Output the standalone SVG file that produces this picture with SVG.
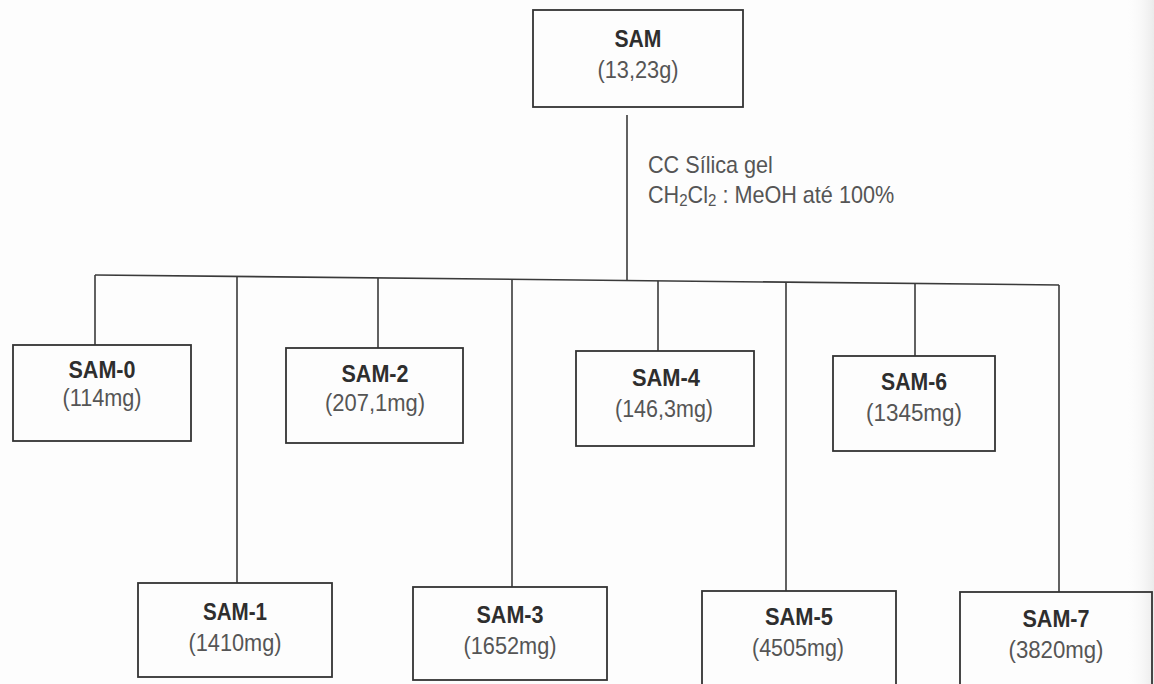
<svg xmlns="http://www.w3.org/2000/svg" width="1154" height="684" viewBox="0 0 1154 684">
<defs>
<linearGradient id="edge" x1="0" y1="0" x2="1" y2="0">
<stop offset="0" stop-color="#ffffff" stop-opacity="0"/>
<stop offset="1" stop-color="#ebebeb" stop-opacity="1"/>
</linearGradient>
<style>
.box{fill:none;stroke:#333;stroke-width:1.8}
.ln{fill:none;stroke:#3a3a3a;stroke-width:1.6}
.nm{font-family:"Liberation Sans",Arial,sans-serif;font-size:23px;font-weight:bold;fill:#2e2e2e;text-anchor:middle}
.wt{font-family:"Liberation Sans",Arial,sans-serif;font-size:23px;fill:#555;text-anchor:middle}
.note{font-family:"Liberation Sans",Arial,sans-serif;font-size:23px;fill:#555}
</style>
</defs>
<rect x="0" y="0" width="1154" height="684" fill="#fdfdfd"/>
<rect x="1124" y="0" width="30" height="684" fill="url(#edge)"/>

<g id="connectors">
<line class="ln" x1="627" y1="115" x2="627" y2="280.5"/>
<line class="ln" x1="95" y1="275" x2="1059" y2="285"/>
<line class="ln" x1="95" y1="275" x2="95" y2="345"/>
<line class="ln" x1="237" y1="276.5" x2="237" y2="583"/>
<line class="ln" x1="378" y1="278" x2="378" y2="348"/>
<line class="ln" x1="512" y1="279.3" x2="512" y2="587"/>
<line class="ln" x1="658" y1="280.8" x2="658" y2="351"/>
<line class="ln" x1="786" y1="282.2" x2="786" y2="591"/>
<line class="ln" x1="915" y1="283.5" x2="915" y2="356"/>
<line class="ln" x1="1059" y1="285" x2="1059" y2="592"/>
<text class="note" transform="translate(648,173) scale(0.94,1)"><tspan x="0" y="0">CC Sílica gel</tspan><tspan x="0" y="30">CH</tspan><tspan font-size="16" dy="3">2</tspan><tspan dy="-3">Cl</tspan><tspan font-size="16" dy="3">2</tspan><tspan dy="-3"> : MeOH até 100%</tspan></text>
</g>

<g id="SAM">
<rect class="box" x="533" y="10" width="210" height="97"/>
<text class="nm" x="638" y="47" textLength="47" lengthAdjust="spacingAndGlyphs">SAM</text>
<text class="wt" x="638" y="78" textLength="81" lengthAdjust="spacingAndGlyphs">(13,23g)</text>
</g>

<g id="SAM-0">
<rect class="box" x="13" y="345" width="178" height="96"/>
<text class="nm" x="102" y="378" textLength="67" lengthAdjust="spacingAndGlyphs">SAM-0</text>
<text class="wt" x="102" y="406" textLength="79" lengthAdjust="spacingAndGlyphs">(114mg)</text>
</g>

<g id="SAM-2">
<rect class="box" x="286" y="348" width="177" height="95"/>
<text class="nm" x="375" y="382" textLength="67" lengthAdjust="spacingAndGlyphs">SAM-2</text>
<text class="wt" x="375" y="411" textLength="100" lengthAdjust="spacingAndGlyphs">(207,1mg)</text>
</g>

<g id="SAM-4">
<rect class="box" x="576" y="351" width="178" height="95"/>
<text class="nm" x="666" y="386" textLength="68" lengthAdjust="spacingAndGlyphs">SAM-4</text>
<text class="wt" x="664" y="417" textLength="98" lengthAdjust="spacingAndGlyphs">(146,3mg)</text>
</g>

<g id="SAM-6">
<rect class="box" x="833" y="356" width="162" height="95"/>
<text class="nm" x="914" y="390" textLength="66" lengthAdjust="spacingAndGlyphs">SAM-6</text>
<text class="wt" x="914" y="421" textLength="96" lengthAdjust="spacingAndGlyphs">(1345mg)</text>
</g>

<g id="SAM-1">
<rect class="box" x="138" y="583" width="194" height="94"/>
<text class="nm" x="235" y="620" textLength="64" lengthAdjust="spacingAndGlyphs">SAM-1</text>
<text class="wt" x="235" y="651" textLength="93" lengthAdjust="spacingAndGlyphs">(1410mg)</text>
</g>

<g id="SAM-3">
<rect class="box" x="413" y="587" width="194" height="93"/>
<text class="nm" x="510" y="623" textLength="67" lengthAdjust="spacingAndGlyphs">SAM-3</text>
<text class="wt" x="510" y="654" textLength="93" lengthAdjust="spacingAndGlyphs">(1652mg)</text>
</g>

<g id="SAM-5">
<rect class="box" x="702" y="591" width="194" height="98"/>
<text class="nm" x="799" y="625" textLength="68" lengthAdjust="spacingAndGlyphs">SAM-5</text>
<text class="wt" x="798" y="656" textLength="92" lengthAdjust="spacingAndGlyphs">(4505mg)</text>
</g>

<g id="SAM-7">
<rect class="box" x="960" y="592" width="192" height="98"/>
<text class="nm" x="1056" y="627" textLength="67" lengthAdjust="spacingAndGlyphs">SAM-7</text>
<text class="wt" x="1056" y="658" textLength="95" lengthAdjust="spacingAndGlyphs">(3820mg)</text>
</g>
</svg>
